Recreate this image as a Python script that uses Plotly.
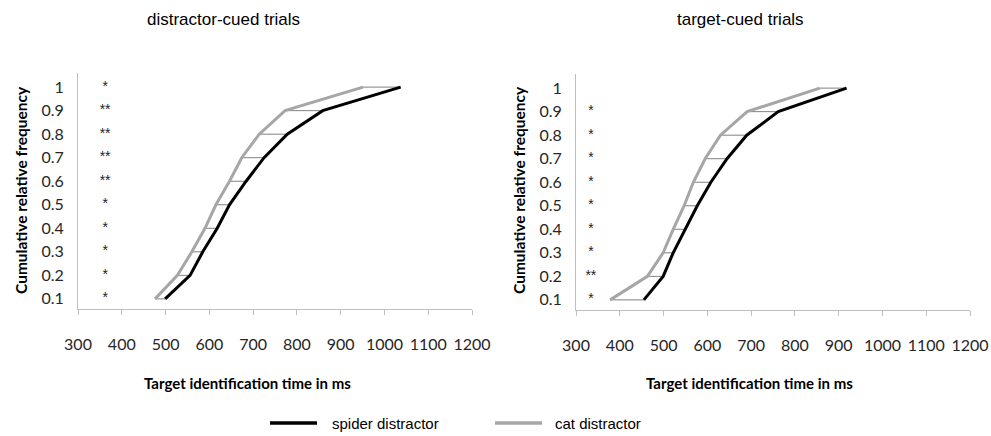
import plotly.graph_objects as go

# ---- data ----
levels = [0.1, 0.2, 0.3, 0.4, 0.5, 0.6, 0.7, 0.8, 0.9, 1.0]
level_labels = ["0.1", "0.2", "0.3", "0.4", "0.5", "0.6", "0.7", "0.8", "0.9", "1"]

dc_spider = [499, 556, 585, 618, 646, 684, 725, 778, 859, 1037]
dc_cat = [476, 527, 560, 590, 615, 646, 674, 714, 773, 951]
dc_stars = ["*", "*", "*", "*", "*", "**", "**", "**", "**", "*"]

tc_spider = [455, 499, 522, 549, 577, 608, 645, 690, 762, 918]
tc_cat = [378, 463, 499, 522, 547, 568, 595, 630, 691, 857]
tc_stars = ["*", "**", "*", "*", "*", "*", "*", "*", "*", ""]

x_ticks = [300, 400, 500, 600, 700, 800, 900, 1000, 1100, 1200]

star_x_dc = 362
star_x_tc = 334

titles = ["distractor-cued trials", "target-cued trials"]
x_title = "Target identification time in ms"
y_title = "Cumulative relative frequency"
legend_names = ["spider distractor", "cat distractor"]

BLACK = "#000000"
GREY = "#a6a6a6"
CONN = "#808080"
AXIS = "#bfbfbf"

W, H = 991, 436

fig = go.Figure()


def add_panel(spider, cat, stars, star_x, xa, ya):
    cx, cy = [], []
    for s, c, l in zip(spider, cat, levels):
        cx += [c, s, None]
        cy += [l, l, None]
    fig.add_trace(go.Scatter(x=cx, y=cy, mode="lines", line=dict(color=CONN, width=1),
                             showlegend=False, hoverinfo="skip", xaxis=xa, yaxis=ya))
    fig.add_trace(go.Scatter(x=cat, y=levels, mode="lines", line=dict(color=GREY, width=3),
                             name=legend_names[1], showlegend=False, xaxis=xa, yaxis=ya))
    fig.add_trace(go.Scatter(x=spider, y=levels, mode="lines", line=dict(color=BLACK, width=3),
                             name=legend_names[0], showlegend=False, xaxis=xa, yaxis=ya))
    fig.add_trace(go.Scatter(x=[star_x] * len(levels), y=levels, mode="text", text=stars,
                             textfont=dict(family="Liberation Sans", size=14, color="#222222"),
                             showlegend=False, hoverinfo="skip", xaxis=xa, yaxis=ya))


add_panel(dc_spider, dc_cat, dc_stars, star_x_dc, "x", "y")
add_panel(tc_spider, tc_cat, tc_stars, star_x_tc, "x2", "y2")

tick_font = dict(family="Lato", size=16, color="#262626")

xaxis_common = dict(range=[300, 1200], tickvals=x_ticks, ticktext=[str(v) for v in x_ticks],
                    showgrid=False, zeroline=False, showline=True, linecolor=AXIS, linewidth=1,
                    ticks="outside", ticklen=5, tickcolor=AXIS, tickfont=tick_font,
                    ticklabelstandoff=16, automargin=False)
yaxis_common = dict(range=[0.057, 1.06], tickvals=levels, ticktext=level_labels,
                    showgrid=False, zeroline=False, showline=True, linecolor=AXIS, linewidth=1,
                    ticks="", tickfont=tick_font, ticklabelstandoff=10, automargin=False)

fig.update_layout(
    width=W, height=H, autosize=False,
    margin=dict(l=0, r=0, t=0, b=0, pad=0),
    plot_bgcolor="white", paper_bgcolor="white",
    showlegend=False,
    xaxis=dict(domain=[78 / W, 472 / W], anchor="y", **xaxis_common),
    yaxis=dict(domain=[(H - 309) / H, (H - 73) / H], anchor="x", **yaxis_common),
    xaxis2=dict(domain=[576 / W, 970 / W], anchor="y2", **xaxis_common),
    yaxis2=dict(domain=[(H - 310) / H, (H - 74) / H], anchor="x2", **yaxis_common),
)

ann = []
for cx, t in zip([223, 740], titles):
    ann.append(dict(x=cx / W, y=1 - 19 / H, xref="paper", yref="paper", text=t, showarrow=False,
                    font=dict(family="Liberation Sans", size=17, color="#000000"),
                    xanchor="center", yanchor="middle"))
for cx in [247, 749]:
    ann.append(dict(x=cx / W, y=1 - 383 / H, xref="paper", yref="paper", text="<b>" + x_title + "</b>",
                    showarrow=False, font=dict(family="Lato", size=15, color="#000000"),
                    xanchor="center", yanchor="middle"))
for cx in [21, 519]:
    ann.append(dict(x=cx / W, y=1 - 190 / H, xref="paper", yref="paper", text="<b>" + y_title + "</b>",
                    showarrow=False, textangle=-90, font=dict(family="Lato", size=15.5, color="#000000"),
                    xanchor="center", yanchor="middle"))
for lx, t in zip([330, 553], legend_names):
    ann.append(dict(x=lx / W, y=1 - 423 / H, xref="paper", yref="paper", text=t, showarrow=False,
                    font=dict(family="Liberation Sans", size=15, color="#000000"),
                    xanchor="left", yanchor="middle"))
fig.update_layout(annotations=ann)

shapes = []
for (x0, x1), col in zip([(270, 317), (495, 542)], [BLACK, GREY]):
    shapes.append(dict(type="line", xref="paper", yref="paper", x0=x0 / W, x1=x1 / W,
                       y0=1 - 423 / H, y1=1 - 423 / H, line=dict(color=col, width=3.5)))
fig.update_layout(shapes=shapes)

fig.write_html("out.html", config={"displayModeBar": False},
               post_script="document.body.style.margin='0';document.body.style.overflow='hidden';")
